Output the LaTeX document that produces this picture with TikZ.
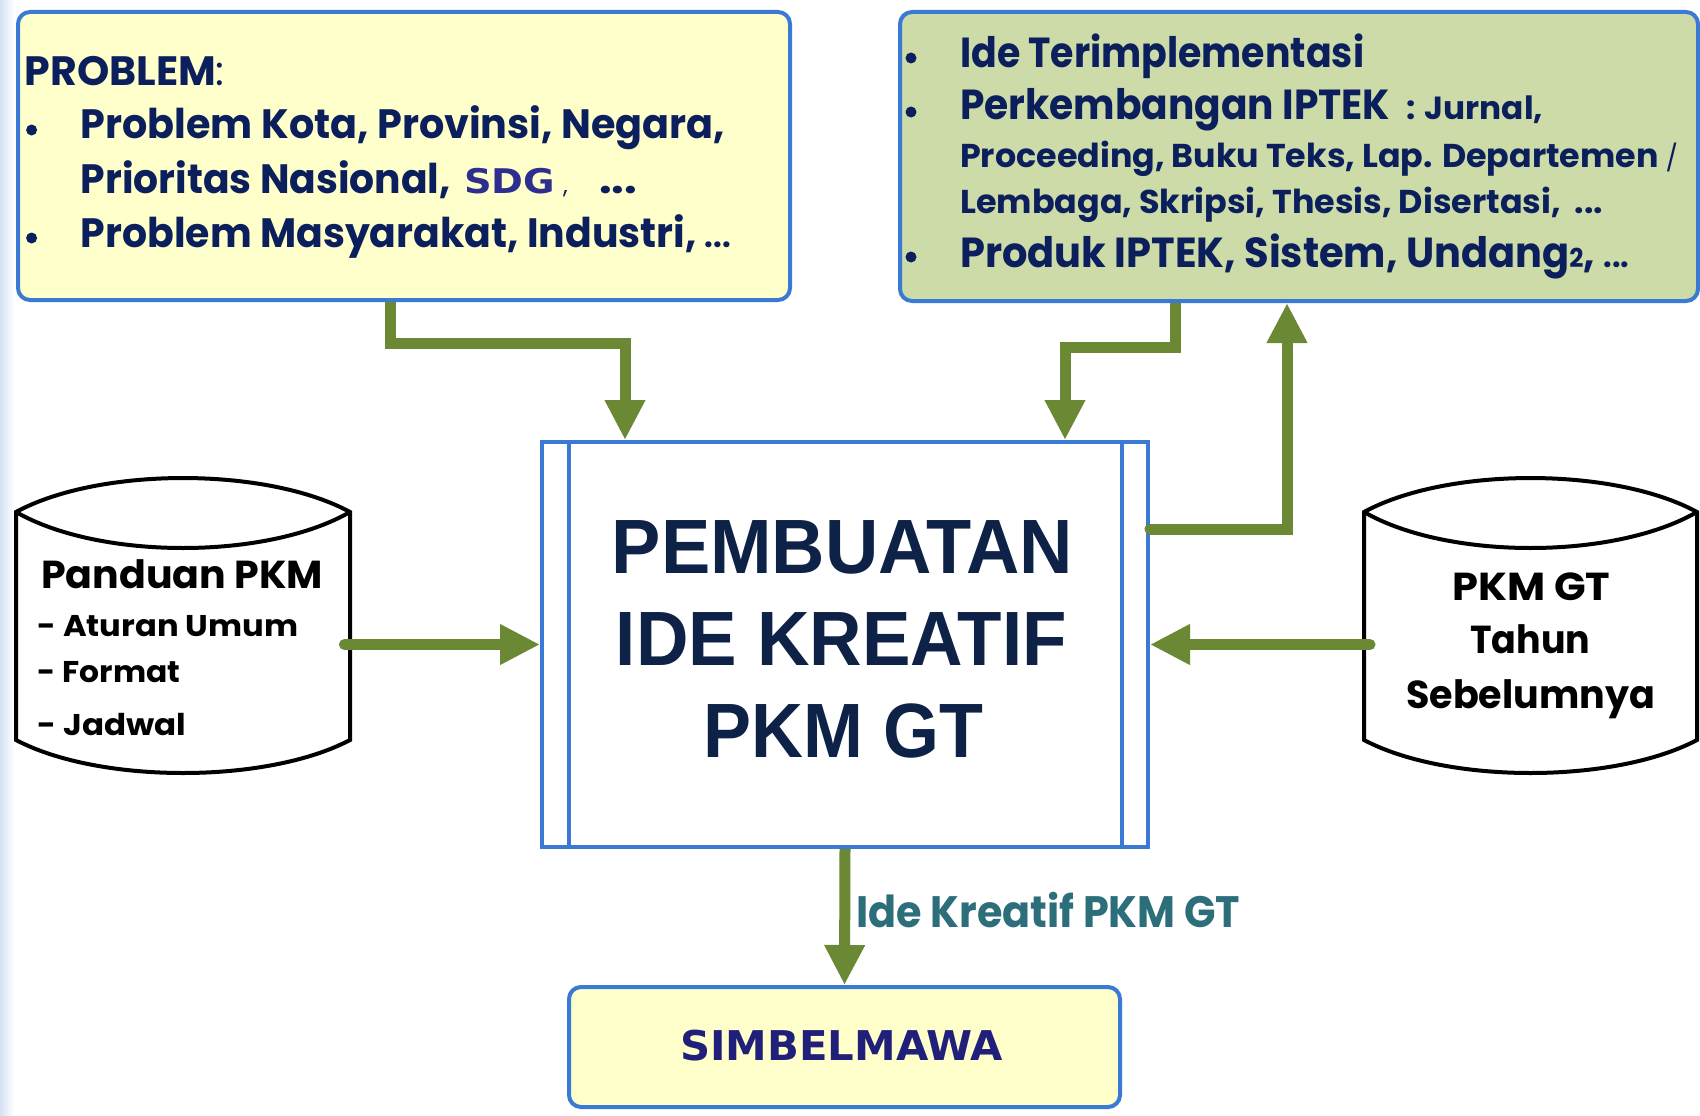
\documentclass[tikz,border=0pt]{standalone}
\usepackage{fontspec}
\usepackage{graphicx}
\usetikzlibrary{arrows.meta,calc}
\newfontfamily\fut{Poppins}
\newfontfamily\ari{Liberation Sans}
\newfontfamily\dvs{DejaVu Sans}
\newcommand{\fitw}[2]{\resizebox{#1}{\height}{#2}}
\newcommand{\fsz}[1]{\fontsize{#1}{#1}\selectfont}
\definecolor{boxblue}{HTML}{3A7AD4}
\definecolor{yelfill}{HTML}{FFFFCC}
\definecolor{grnfill}{HTML}{CDDBA8}
\definecolor{navy}{HTML}{0B1F5C}
\definecolor{cnavy}{HTML}{0E2247}
\definecolor{arrgreen}{HTML}{6B8935}
\definecolor{sdgblue}{HTML}{2E2E8E}
\definecolor{simblue}{HTML}{20207A}
\definecolor{lblteal}{HTML}{2C6E7A}
\definecolor{stripblue}{HTML}{D5E2F3}
\tikzset{
  box/.style={draw=boxblue, line width=4pt, rounded corners=12pt, inner sep=0pt, anchor=north west},
  txt/.style={inner sep=0pt, anchor=base west, text=navy, font=\fut\bfseries},
  ctxt/.style={inner sep=0pt, anchor=base west, text=black, font=\fut\bfseries},
  bigtxt/.style={inner sep=0pt, anchor=base west, text=cnavy, font=\ari\bfseries\fsz{77}},
  bul/.style={circle, fill=navy, minimum size=11pt, inner sep=0pt},
  cyl/.style={draw=black, fill=white, line width=4pt},
  arr/.style={draw=arrgreen, line width=11pt, line cap=butt, -{Triangle[length=40pt,width=38pt]}},
  arrr/.style={arr, line cap=round},
  ghost/.style={inner sep=0pt, anchor=north west}
}
\begin{document}
\begin{tikzpicture}[x=1pt,y=-1pt]
\useasboundingbox (0,0) rectangle (1700,1116);
\fill[white] (0,0) rectangle (1700,1116);
\shade[left color=stripblue, right color=white] (0,0) rectangle (14,1116);

% top-left box
\node[box, fill=yelfill, minimum width=772pt, minimum height=288pt] (tl) at (16,10) {};
\node[txt, font=\fut\bfseries\fsz{41}] (p0) at (24.5,85) {\fitw{200pt}{PROBLEM{\mdseries:}}};
\node[bul] (tb1) at (31.6,130) {};
\node[txt, font=\fut\bfseries\fsz{41}] (p1) at (80.6,138) {\fitw{644pt}{Problem Kota, Provinsi, Negara,}};
\node[txt, font=\fut\bfseries\fsz{41}] (p2) at (80.6,193) {\fitw{370pt}{Prioritas Nasional,}};
\node[txt, font=\dvs\bfseries\fsz{34}, text=sdgblue] (p2s) at (464,193) {\fitw{91pt}{SDG}};
\node[txt, font=\fut\fsz{24}] (p2c) at (563,193) {,};
\node[txt, font=\fut\bfseries\fsz{41}] (p2d) at (599,193) {\fitw{38pt}{...}};
\node[bul] (tb2) at (31.6,238) {};
\node[txt, font=\fut\bfseries\fsz{41}] (p3) at (80.6,247) {\fitw{650pt}{Problem Masyarakat, Industri, {\fsz{32}...}}};

% top-right box
\node[box, fill=grnfill, minimum width=798pt, minimum height=289pt] (tr) at (898,10) {};
\node[bul] (rb1) at (911,58) {};
\node[txt, font=\fut\bfseries\fsz{42}] (r1) at (960,67) {\fitw{404pt}{Ide Terimplementasi}};
\node[bul] (rb2) at (911,112) {};
\node[txt, font=\fut\bfseries\fsz{42}] (r2) at (960,119) {\fitw{430pt}{Perkembangan IPTEK}};
\node[txt, font=\fut\bfseries\fsz{32}] (r2b) at (1406,119) {\fitw{137pt}{: Jurnal,}};
\node[txt, font=\fut\bfseries\fsz{33}] (r3) at (960,167) {\fitw{718pt}{Proceeding, Buku Teks, Lap. Departemen {\mdseries\fsz{26}/}}};
\node[txt, font=\fut\bfseries\fsz{33}] (r4) at (960,213) {\fitw{643pt}{Lembaga, Skripsi, Thesis, Disertasi,\ \ ...}};
\node[bul] (rb3) at (911,257) {};
\node[txt, font=\fut\bfseries\fsz{42}] (r5) at (960,267) {\fitw{669pt}{Produk IPTEK, Sistem, Undang{\fsz{26}2}, {\fsz{32}...}}};

% center box
\node[draw=boxblue, line width=4pt, fill=white, minimum width=606pt, minimum height=405pt, ghost] (ct) at (540,440) {};
\draw[boxblue, line width=3.5pt] ([xshift=29pt]ct.north west) -- ([xshift=29pt]ct.south west);
\draw[boxblue, line width=3.5pt] ([xshift=-28pt]ct.north east) -- ([xshift=-28pt]ct.south east);
\node[bigtxt] (c1) at (611.6,573) {\fitw{461pt}{PEMBUATAN}};
\node[bigtxt] (c2) at (615.7,665) {\fitw{451pt}{IDE KREATIF}};
\node[bigtxt] (c3) at (703.5,757) {\fitw{279.5pt}{PKM GT}};

% left cylinder
\node[ghost, minimum width=334pt, minimum height=295pt] (cl) at (16,478) {};
\filldraw[cyl] (16,512) .. controls (99.5,466.7) and (266.5,466.7) .. (350,512) -- (350,740)
  .. controls (266.5,784) and (99.5,784) .. (16,740) -- cycle;
\draw[cyl, fill=none] (16,512) .. controls (99.5,560) and (266.5,560) .. (350,512);
\node[ctxt, font=\fut\bfseries\fsz{39}] (l1) at (41,588) {\fitw{282pt}{Panduan PKM}};
\node[ctxt, font=\fut\bfseries\fsz{30}] (l2) at (37.5,636) {\fitw{260.5pt}{- Aturan Umum}};
\node[ctxt, font=\fut\bfseries\fsz{30}] (l3) at (37.5,682) {\fitw{142.5pt}{- Format}};
\node[ctxt, font=\fut\bfseries\fsz{30}] (l4) at (37.5,735) {\fitw{148.5pt}{- Jadwal}};

% right cylinder
\node[ghost, minimum width=333pt, minimum height=295pt] (cr) at (1364,478) {};
\filldraw[cyl] (1364,512) .. controls (1447.25,466.7) and (1613.75,466.7) .. (1697,512) -- (1697,740)
  .. controls (1613.75,784) and (1447.25,784) .. (1364,740) -- cycle;
\draw[cyl, fill=none] (1364,512) .. controls (1447.25,560) and (1613.75,560) .. (1697,512);
\node[ctxt, font=\fut\bfseries\fsz{39}] (k1) at (1452,600) {\fitw{158pt}{PKM GT}};
\node[ctxt, font=\fut\bfseries\fsz{39}] (k2) at (1470,653) {\fitw{120pt}{Tahun}};
\node[ctxt, font=\fut\bfseries\fsz{39}] (k3) at (1406,708) {\fitw{249pt}{Sebelumnya}};

% bottom box
\node[box, fill=yelfill, minimum width=551pt, minimum height=120pt] (sb) at (567,985) {};
\node[txt, font=\dvs\bfseries\fsz{41}, text=simblue] (s1) at (680,1060) {\fitw{323pt}{SIMBELMAWA}};

% label
\node[txt, font=\fut\bfseries\fsz{44}, text=lblteal] (lbl) at (856,927) {\fitw{384pt}{Ide Kreatif PKM GT}};

% connectors
\draw[arr] ([xshift=-14pt]tl.south) -- ++(0,41) -| ([xshift=-220pt]ct.north);
\draw[arr] ([xshift=-124pt]tr.south) -- ++(0,44) -| ([xshift=220pt]ct.north);
\draw[arrr] ([yshift=115.5pt]ct.east) -| ([xshift=-12pt]tr.south);
\draw[arrr] ($(cl.east |- ct.west)+(-6,0)$) -- (ct.west);
\draw[arrr] ($(cr.west |- ct.east)+(6,0)$) -- (ct.east);
\draw[arr] (ct.south) -- (sb.north);
\end{tikzpicture}
\end{document}
